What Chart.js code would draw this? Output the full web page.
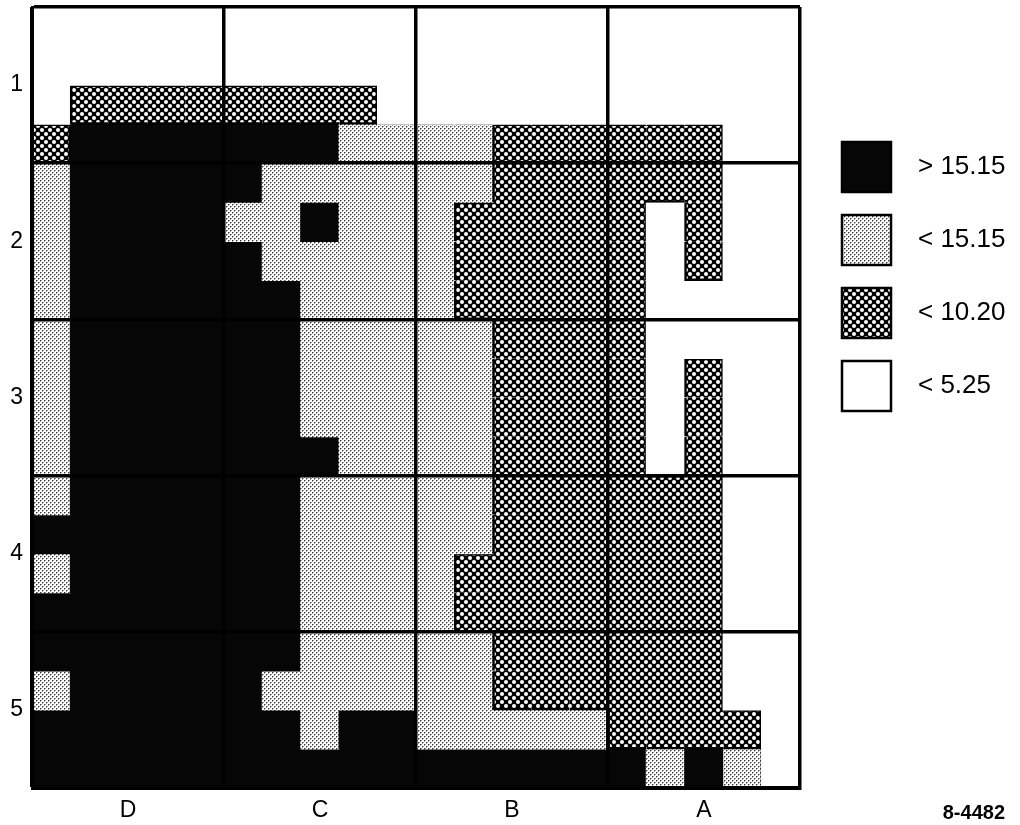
<!DOCTYPE html>
<html>
<head>
<meta charset="utf-8">
<script src="https://cdn.jsdelivr.net/npm/chart.js@4.4.1/dist/chart.umd.min.js"></script>
<style>
	html, body { margin: 0; padding: 0; background: #fff; }
	#wrap { width: 1020px; height: 825px; position: relative; }
</style>
</head>
<body>
<div id="wrap"><canvas id="chart1"></canvas></div>
<script>
// classes : 0 = < 5.25, 1 = < 10.20, 2 = < 15.15, 3 = > 15.15
const class_labels = ['< 5.25', '< 10.20', '< 15.15', '> 15.15'];
const legend_order = [3, 2, 1, 0];
const column_labels = ['D', 'C', 'B', 'A'];   // 5 sub-columns each
const row_labels = ['1', '2', '3', '4', '5'];  // 4 sub-rows each
const figure_no = '8-4482';

// one string per sub-row, top first, one char per sub-column (left -> right)
const cells = [
	'00000000000000000000',
	'00000000000000000000',
	'01111111100000000000',
	'13333333222211111100',
	'23333322222211111100',
	'23333223222111110100',
	'23333322222111110100',
	'23333332222111110000',
	'23333332222211110000',
	'23333332222211110100',
	'23333332222211110100',
	'23333333222211110100',
	'23333332222211111100',
	'33333332222211111100',
	'23333332222111111100',
	'33333332222111111100',
	'33333332222211111100',
	'23333322222211111100',
	'33333332332222211110',
	'33333333333333332320'
];

const sub_columns = [];
for (let i = 0; i < cells[0].length; i++) sub_columns.push(String(i));

function make_pattern(size, draw) {
	const c = document.createElement('canvas');
	c.width = size;
	c.height = size;
	const g = c.getContext('2d');
	draw(g);
	return g.createPattern(c, 'repeat');
}

// coarse halftone (< 10.20)
const coarse_dots = make_pattern(8, g => {
	g.fillStyle = '#000';
	g.fillRect(0, 0, 8, 8);
	g.fillStyle = '#fff';
	[[2, 2], [6, 6]].forEach(p => {
		g.beginPath();
		g.arc(p[0], p[1], 2.0, 0, Math.PI * 2);
		g.fill();
	});
});
// fine stipple (< 15.15)
const fine_dots = make_pattern(4, g => {
	g.fillStyle = '#fff';
	g.fillRect(0, 0, 4, 4);
	g.fillStyle = '#a0a0a0';
	g.fillRect(1, 0, 1, 1); g.fillRect(0, 1, 1, 1);
	g.fillRect(3, 2, 1, 1); g.fillRect(2, 3, 1, 1);
	g.fillStyle = '#3a3a3a';
	g.fillRect(0, 0, 1, 1); g.fillRect(2, 2, 1, 1);
});
const fills = ['#ffffff', coarse_dots, fine_dots, '#060606'];

function cell_class(r, c) {
	if (r < 0 || r >= cells.length || c < 0 || c >= cells[r].length) return -1;
	return Number(cells[r][c]);
}

// outline a shaded patch where it meets a different class
function edge_widths(r, c) {
	const k = cell_class(r, c);
	if (k === 0 || k === 3) return 0;
	const w = k === 1 ? 2.5 : 1.5;
	const side = (rr, cc) => {
		const n = cell_class(rr, cc);
		if (n === -1) return 0;
		if (k === 1) return n !== k ? w : 0;
		return n === 0 ? w : 0;
	};
	return { top: side(r - 1, c), bottom: side(r + 1, c), left: side(r, c - 1), right: side(r, c + 1) };
}

const datasets = cells.map((row, r) => ({
	label: 'row ' + r,
	data: row.split('').map(() => 1),
	backgroundColor: row.split('').map(ch => fills[Number(ch)]),
	borderColor: '#000',
	borderWidth: ctx => edge_widths(r, ctx.dataIndex),
	borderSkipped: false,
	inflateAmount: 0.6,
	barPercentage: 1,
	categoryPercentage: 1,
	stack: 'grid'
}));

const legend_plugin = {
	id: 'class_legend',
	afterDraw(chart) {
		const ctx = chart.ctx;
		ctx.save();
		legend_order.forEach((k, i) => {
			const x = 842, y = 142 + i * 73;
			ctx.fillStyle = fills[k];
			ctx.fillRect(x, y, 49, 50);
			ctx.lineWidth = 2.5;
			ctx.strokeStyle = '#000';
			ctx.strokeRect(x, y, 49, 50);
			ctx.fillStyle = '#000';
			ctx.font = '26px "Liberation Sans", Arial, sans-serif';
			ctx.textBaseline = 'middle';
			ctx.textAlign = 'left';
			ctx.fillText(class_labels[k], 918, y + 25);
		});
		ctx.font = 'bold 20px "Liberation Sans", Arial, sans-serif';
		ctx.textAlign = 'right';
		ctx.textBaseline = 'middle';
		ctx.fillText(figure_no, 1005, 813);
		ctx.restore();
	}
};

const tick_font = { family: '"Liberation Sans", Arial, sans-serif', size: 23 };

new Chart('chart1', {
	type: 'bar',
	data: { labels: sub_columns, datasets: datasets },
	plugins: [legend_plugin],
	options: {
		responsive: true,
		maintainAspectRatio: false,
		animation: false,
		layout: { padding: { top: 7, right: 220, bottom: 0, left: 0 } },
		plugins: {
			legend: { display: false },
			tooltip: { enabled: false }
		},
		scales: {
			x: {
				type: 'category',
				stacked: true,
				afterFit: s => { s.height = 37; s.paddingLeft = 0; s.paddingRight = 0; },
				border: { display: true, color: '#000', width: 3, z: 2 },
				grid: {
					z: 1,
					offset: true,
					drawTicks: false,
					lineWidth: 3.5,
					// the closing line on the right has no tick of its own
					color: ctx => (ctx.index === undefined || ctx.index % 5 === 0) ? '#000' : 'rgba(0,0,0,0)'
				},
				ticks: {
					autoSkip: false,
					maxRotation: 0,
					padding: 9,
					color: '#000',
					font: tick_font,
					callback: (v, i) => i % 5 === 2 ? column_labels[(i - 2) / 5] : ''
				}
			},
			y: {
				type: 'linear',
				stacked: true,
				reverse: true,
				min: 0,
				max: 20,
				afterFit: s => { s.width = 32; s.paddingTop = 0; s.paddingBottom = 0; },
				border: { display: true, color: '#000', width: 3, z: 2 },
				grid: {
					z: 1,
					drawTicks: false,
					lineWidth: 3.5,
					color: ctx => ctx.tick && ctx.tick.value % 4 === 0 ? '#000' : 'rgba(0,0,0,0)'
				},
				ticks: {
					stepSize: 1,
					autoSkip: false,
					padding: 9,
					color: '#000',
					font: tick_font,
					callback: v => v % 4 === 2 ? row_labels[(v - 2) / 4] : ''
				}
			}
		}
	}
});
</script>
</body>
</html>
